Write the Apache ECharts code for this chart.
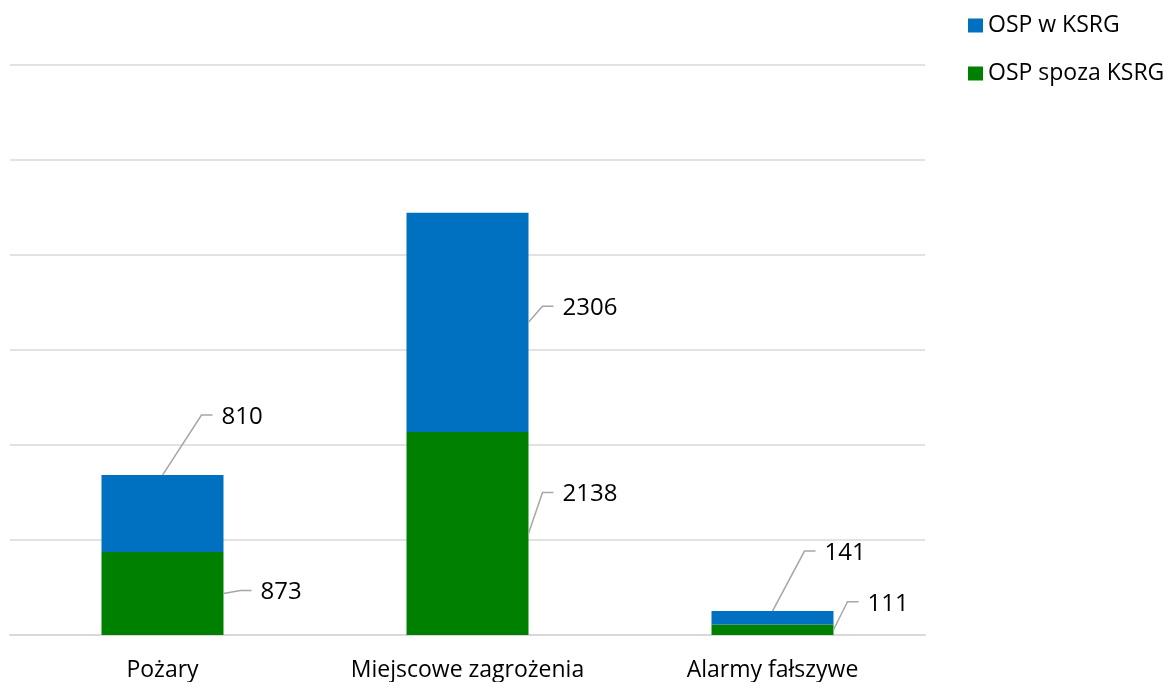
<!DOCTYPE html>
<html>
<head>
<meta charset="utf-8">
<script src="https://cdn.jsdelivr.net/npm/echarts@6/dist/echarts.min.js"></script>
<style>
  html, body { margin: 0; padding: 0; background: #fff; }
  #chart { width: 1165px; height: 682px; }
</style>
</head>
<body>
<div id="chart"></div>
<script>
const categories = ['Pożary', 'Miejscowe zagrożenia', 'Alarmy fałszywe'];
const ospSpozaKSRG = [873, 2138, 111];
const ospWKSRG = [810, 2306, 141];
const seriesNames = ['OSP w KSRG', 'OSP spoza KSRG'];

const FONT = '"Open Sans", Lato, sans-serif';

// Callout placement: where the leader leaves the bar (top centre or right edge middle)
// and where the value text sits relative to that point.
const calloutW = [
  { from: 'top', dx: 59, dy: -58 },
  { from: 'right', dx: 34, dy: -14 },
  { from: 'top', dx: 52, dy: -58 }
];
const calloutSpoza = [
  { from: 'right', dx: 37, dy: -1 },
  { from: 'right', dx: 34, dy: -39 },
  { from: 'right', dx: 34, dy: -26 }
];

// leader polylines collected while the labels are laid out
const leaders = {};

function callout(spec, key) {
  return function (p) {
    const r = p.rect;
    const s = spec[p.dataIndex];
    const ax = s.from === 'top' ? r.x + r.width / 2 : r.x + r.width;
    const ay = s.from === 'top' ? r.y : r.y + r.height / 2;
    const lx = ax + s.dx;
    const ly = ay + s.dy;
    leaders[key + p.dataIndex] = [[ax, ay], [lx - 20, ly - 2], [lx - 9, ly - 2]];
    return { x: lx, y: ly, align: 'left', verticalAlign: 'middle' };
  };
}

const valueLabel = {
  show: true,
  position: 'inside',
  color: '#000',
  fontFamily: FONT,
  fontSize: 24
};

const chart = echarts.init(document.getElementById('chart'), null, { renderer: 'canvas' });

const option = {
  animation: false,
  backgroundColor: '#fff',
  legend: {
    data: seriesNames,
    orient: 'vertical',
    left: 968,
    top: 14,
    padding: 0,
    icon: 'rect',
    itemWidth: 15,
    itemHeight: 14,
    itemGap: 25,
    textStyle: { fontFamily: FONT, fontSize: 23, color: '#000' }
  },
  grid: { left: 10, right: 240, top: 65, bottom: 47, containLabel: false },
  xAxis: {
    type: 'category',
    data: categories,
    axisLine: { lineStyle: { color: '#d9d9d9', width: 2 } },
    axisTick: { show: false },
    axisLabel: { color: '#000', fontFamily: FONT, fontSize: 23, margin: 24 }
  },
  yAxis: {
    type: 'value',
    min: 0,
    max: 6000,
    interval: 1000,
    axisLabel: { show: false },
    axisLine: { show: false },
    axisTick: { show: false },
    splitLine: { lineStyle: { color: '#d9d9d9', width: 1.5 } }
  },
  series: [
    {
      name: 'OSP spoza KSRG',
      type: 'bar',
      stack: 'osp',
      barWidth: '40%',
      data: ospSpozaKSRG,
      itemStyle: { color: '#008000' },
      label: valueLabel,
      labelLayout: callout(calloutSpoza, 'spoza')
    },
    {
      name: 'OSP w KSRG',
      type: 'bar',
      stack: 'osp',
      barWidth: '40%',
      data: ospWKSRG,
      itemStyle: { color: '#0070C0' },
      label: valueLabel,
      labelLayout: callout(calloutW, 'w')
    }
  ]
};

chart.setOption(option);

// leader lines from each bar to its value label
chart.setOption({
  graphic: Object.keys(leaders).map(function (k) {
    return {
      type: 'polyline',
      silent: true,
      z: 10,
      shape: { points: leaders[k] },
      style: { stroke: '#a6a6a6', lineWidth: 1.5, fill: null }
    };
  })
});
</script>
</body>
</html>
